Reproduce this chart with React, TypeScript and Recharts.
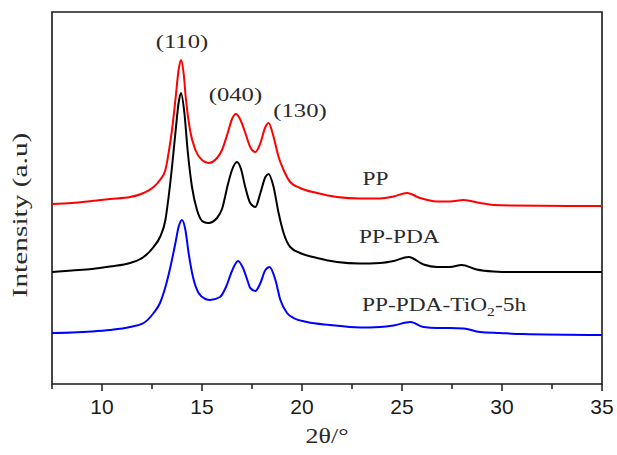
import React from 'react';
import { LineChart, Line, XAxis, YAxis, ReferenceArea, ReferenceDot, Label } from 'recharts';

// 2θ (degrees) and intensity (a.u.) for each sample
const ppTheta = [7.5, 8.5, 9.5, 10.4, 11.4, 12.08, 12.58, 12.9, 13.17, 13.33, 13.5, 13.67, 13.83, 13.95, 14.08, 14.2, 14.4, 14.67, 15.0, 15.33, 15.75, 16.0, 16.3, 16.5, 16.7, 16.9, 17.15, 17.41, 17.67, 17.92, 18.17, 18.33, 18.58, 18.83, 19.08, 19.41, 19.9, 20.75, 21.75, 22.9, 23.9, 24.58, 25.25, 25.9, 26.75, 27.4, 28.08, 28.9, 29.58, 30.4, 35];
const ppI = [180, 181, 183, 185, 187, 191, 197, 204, 214, 231, 254, 284, 314, 324, 311, 284, 254, 234, 224, 221, 226, 234, 252, 265, 270, 265, 252, 237, 232, 241, 257, 261, 247, 227, 214, 202, 196, 191, 187, 185.5, 185.5, 187.5, 191, 186, 182.5, 182.5, 184, 181, 179, 178.5, 178];

const pdaTheta = [7.5, 8.5, 9.5, 10.4, 11.4, 12.08, 12.58, 12.9, 13.17, 13.33, 13.5, 13.67, 13.83, 13.95, 14.12, 14.28, 14.5, 14.75, 15.08, 15.33, 15.75, 16.0, 16.3, 16.5, 16.75, 16.95, 17.15, 17.41, 17.67, 17.92, 18.17, 18.33, 18.58, 18.83, 19.08, 19.41, 19.9, 20.75, 21.75, 22.9, 23.9, 24.58, 25.33, 26.08, 26.75, 27.4, 27.98, 28.73, 29.58, 30.4, 35];
const pdaI = [112, 113.5, 115, 117.5, 121, 127, 137, 147, 164, 187, 217, 251, 281, 291, 271, 234, 197, 174, 162, 161, 166, 175, 200, 214, 222, 215, 198, 181, 177, 191, 207, 210, 197, 171, 151, 137, 131, 126, 122, 120.5, 121, 123, 127, 119.5, 117, 117, 119, 114.5, 112.5, 112, 112];

const tioTheta = [7.5, 8.5, 9.5, 10.4, 11.4, 12.08, 12.58, 12.9, 13.17, 13.42, 13.67, 13.83, 14.0, 14.17, 14.33, 14.55, 14.83, 15.17, 15.4, 15.9, 16.2, 16.5, 16.8, 17.05, 17.3, 17.41, 17.67, 17.92, 18.17, 18.38, 18.67, 18.92, 19.25, 19.58, 20.25, 21.4, 22.9, 23.9, 24.58, 25.42, 26.08, 26.75, 27.4, 28.08, 28.9, 29.9, 31, 35];
const tioI = [51, 51.5, 52.5, 54, 57, 61, 71, 81, 97, 117, 141, 157, 164, 154, 131, 107, 91, 85, 84, 87, 97, 113, 123, 116, 102, 96, 93, 101, 114, 117, 104, 84, 71, 66, 62, 59, 56.5, 57, 58.5, 62, 57, 56, 56, 55.5, 52, 51, 50, 49];

const xTicks = [7.5, 10, 12.5, 15, 17.5, 20, 22.5, 25, 27.5, 30, 32.5, 35];

const seriesNames = ['PP', 'PP-PDA', 'PP-PDA-TiO2-5h'];

const peakLabels = ['(110)', '(040)', '(130)'];
const peakTheta = [14.0, 16.67, 19.9];
const peakI = [336, 283.5, 267.5];

const sampleTheta = [23.67, 24.87, 27.1];
const sampleI = [199, 141, 73];

const toRows = (t: number[], v: number[]) => t.map((x, i) => ({ t: x, v: v[i] }));
const ppData = toRows(ppTheta, ppI);
const pdaData = toRows(pdaTheta, pdaI);
const tioData = toRows(tioTheta, tioI);

const SERIF = '"Liberation Serif", "Times New Roman", serif';
const SANS = '"Liberation Sans", Arial, sans-serif';
const INK = '#1a1a1a';
const TEXT = '#2a2a2a';

const XTick = (props: any) => {
  const { x, y, payload } = props;
  const major = payload.value % 5 === 0;
  return (
    <g>
      <line x1={x} x2={x} y1={y} y2={y + (major ? 7 : 5)} stroke={INK} strokeWidth={1.5} />
      {major && (
        <text x={x} y={y + 30} textAnchor="middle" fontFamily={SANS} fontSize={21} fill={INK}>
          {payload.value}
        </text>
      )}
    </g>
  );
};

const makeText = (text: string, size: number) => (props: any) => {
  const vb = props.viewBox || {};
  const cx = (vb.x ?? 0) + (vb.width ?? 0) / 2;
  const cy = (vb.y ?? 0) + (vb.height ?? 0) / 2;
  const hasSub = text.includes('TiO2');
  return (
    <text
      transform={`translate(${cx},${cy}) scale(1.3,1)`}
      textAnchor="middle"
      fontFamily={SERIF}
      fontSize={size}
      fill={TEXT}
    >
      {hasSub ? (
        <>
          <tspan>PP-PDA-TiO</tspan>
          <tspan fontSize={12} dy={5}>2</tspan>
          <tspan dy={-5}>-5h</tspan>
        </>
      ) : (
        text
      )}
    </text>
  );
};

const XTitle = (props: any) => {
  const vb = props.viewBox || {};
  const cx = vb.x + vb.width / 2;
  return (
    <text
      transform={`translate(${cx},${vb.y + 59}) scale(1.3,1)`}
      textAnchor="middle"
      fontFamily={SERIF}
      fontSize={20}
      fill={TEXT}
    >
      2θ/°
    </text>
  );
};

const YTitle = (props: any) => {
  const vb = props.viewBox || {};
  const cy = vb.y + vb.height / 2 + 17;
  return (
    <text
      transform={`translate(27,${cy}) rotate(-90) scale(1.4,1)`}
      textAnchor="middle"
      fontFamily={SERIF}
      fontSize={21}
      fill={TEXT}
    >
      Intensity (a.u)
    </text>
  );
};

export default function App() {
  return (
    <div style={{ position: 'absolute', left: 0, top: 0, width: 617, height: 455, background: '#fff' }}>
      <LineChart width={617} height={455} margin={{ top: 12, right: 15, bottom: 41, left: 0 }}>
        <XAxis
          type="number"
          dataKey="t"
          domain={[7.5, 35]}
          ticks={xTicks}
          allowDataOverflow
          axisLine={false}
          tickLine={false}
          tickSize={0}
          tickMargin={0}
          height={30}
          tick={<XTick />}
          interval={0}
        >
          <Label content={<XTitle />} />
        </XAxis>
        <YAxis
          type="number"
          domain={[0, 372]}
          allowDataOverflow
          width={52}
          tick={false}
          axisLine={false}
          tickLine={false}
        >
          <Label content={<YTitle />} />
        </YAxis>
        <ReferenceArea x1={7.5} x2={35} y1={0} y2={372} fill="none" stroke={INK} strokeWidth={1.6} ifOverflow="visible" />
        <Line data={ppData} dataKey="v" name={seriesNames[0]} type="monotone" stroke="#ff0000" strokeWidth={2} dot={false} isAnimationActive={false} />
        <Line data={pdaData} dataKey="v" name={seriesNames[1]} type="monotone" stroke="#000000" strokeWidth={2} dot={false} isAnimationActive={false} />
        <Line data={tioData} dataKey="v" name={seriesNames[2]} type="monotone" stroke="#0000ff" strokeWidth={2} dot={false} isAnimationActive={false} />
        {peakLabels.map((txt, i) => (
          <ReferenceDot key={txt} x={peakTheta[i]} y={peakI[i]} r={1} fill="none" stroke="none" ifOverflow="visible" label={makeText(txt, 19)} />
        ))}
        {seriesNames.map((txt, i) => (
          <ReferenceDot key={txt} x={sampleTheta[i]} y={sampleI[i]} r={1} fill="none" stroke="none" ifOverflow="visible" label={makeText(txt, 18)} />
        ))}
      </LineChart>
    </div>
  );
}
